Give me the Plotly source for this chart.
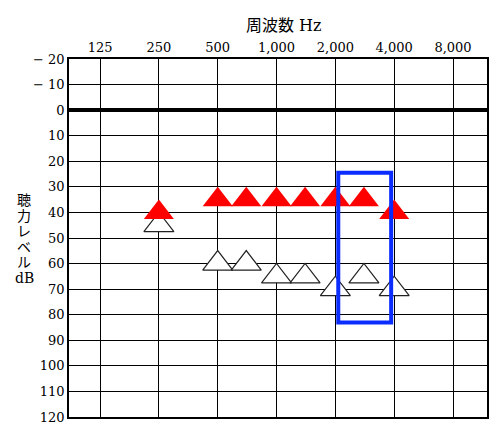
import plotly.graph_objects as go

# audiogram values (Hz, dB HL)
freq_tick = [125, 250, 500, 1000, 2000, 4000, 8000]
freq_tick_text = ["125", "250", "500", "1,000", "2,000", "4,000", "8,000"]
db_tick = list(range(-20, 121, 10))
db_tick_text = ["\u2212 20", "\u2212 10"] + [str(v) for v in range(0, 121, 10)]

# red filled triangles
red_freq = [250, 500, 700, 1000, 1400, 2000, 2800, 4000]
red_db = [40, 35, 35, 35, 35, 35, 35, 40]

# white outlined triangles
white_freq = [250, 500, 700, 1000, 1400, 2000, 2800, 4000]
white_db = [45, 60, 60, 65, 65, 70, 65, 70]

# blue highlight box
box_freq = [2070, 3860]
box_db = [24.5, 83]

# vertical axis label, one character per line
ylabel_chars = ["聴", "力", "レ", "ベ", "ル", "dB"]

# the page body has an 8px margin, so the figure is sized to fit inside it
W, H = 484, 415
OFF = 8
plot_l, plot_t, plot_r, plot_b = 69 - OFF, 59 - OFF, 487 - OFF, 417 - OFF

fig = go.Figure()

fig.add_trace(go.Scatter(
    x=white_freq, y=white_db, mode="markers",
    marker=dict(symbol="triangle-up", size=26, color="white",
                line=dict(color="#222222", width=1.2)),
    showlegend=False, cliponaxis=False
))

fig.add_trace(go.Scatter(
    x=red_freq, y=red_db, mode="markers",
    marker=dict(symbol="triangle-up", size=26, color="#ff0000",
                line=dict(width=0)),
    showlegend=False, cliponaxis=False
))

fig.add_shape(type="rect", x0=box_freq[0], x1=box_freq[1], y0=box_db[0], y1=box_db[1],
              xref="x", yref="y", line=dict(color="#0a2cff", width=4), layer="above")

# title above the top tick labels
fig.add_annotation(text="周波数 Hz", xref="paper", yref="paper",
                   x=(283 - 69) / (487 - 69), xanchor="center", y=1.0, yanchor="middle",
                   yshift=59 - 25, showarrow=False,
                   font=dict(family="DejaVu Serif, Noto Sans CJK JP", size=16, color="black"))

ph = plot_b - plot_t
for i, ch in enumerate(ylabel_chars):
    ys = 200 + i * 15.6 - OFF
    fig.add_annotation(text=ch, xref="paper", yref="paper",
                       x=0, xshift=24 - 69, xanchor="center",
                       y=(plot_b - ys) / ph, yanchor="middle",
                       showarrow=False,
                       font=dict(family="DejaVu Serif, Noto Sans CJK JP", size=14, color="black"))

fig.update_xaxes(
    type="log", side="top", range=[1.938, 4.077], automargin=False,
    tickvals=freq_tick, ticktext=freq_tick_text, ticks="",
    ticklabeloverflow="allow",
    showgrid=True, gridcolor="black", gridwidth=1.4,
    showline=True, linecolor="black", linewidth=1.6, mirror=True,
    tickfont=dict(family="DejaVu Serif", size=13, color="black"),
)
fig.update_yaxes(
    range=[120, -20], tickvals=db_tick, ticktext=db_tick_text, ticks="", automargin=False,
    ticklabeloverflow="allow",
    showgrid=True, gridcolor="black", gridwidth=1.4,
    zeroline=True, zerolinecolor="black", zerolinewidth=3.5,
    showline=True, linecolor="black", linewidth=1.6, mirror=True,
    tickfont=dict(family="DejaVu Serif", size=13, color="black"),
)

fig.update_layout(
    width=W, height=H,
    margin=dict(l=plot_l, r=W - plot_r, t=plot_t, b=H - plot_b),
    plot_bgcolor="white", paper_bgcolor="white",
)

fig.write_html("out.html")
